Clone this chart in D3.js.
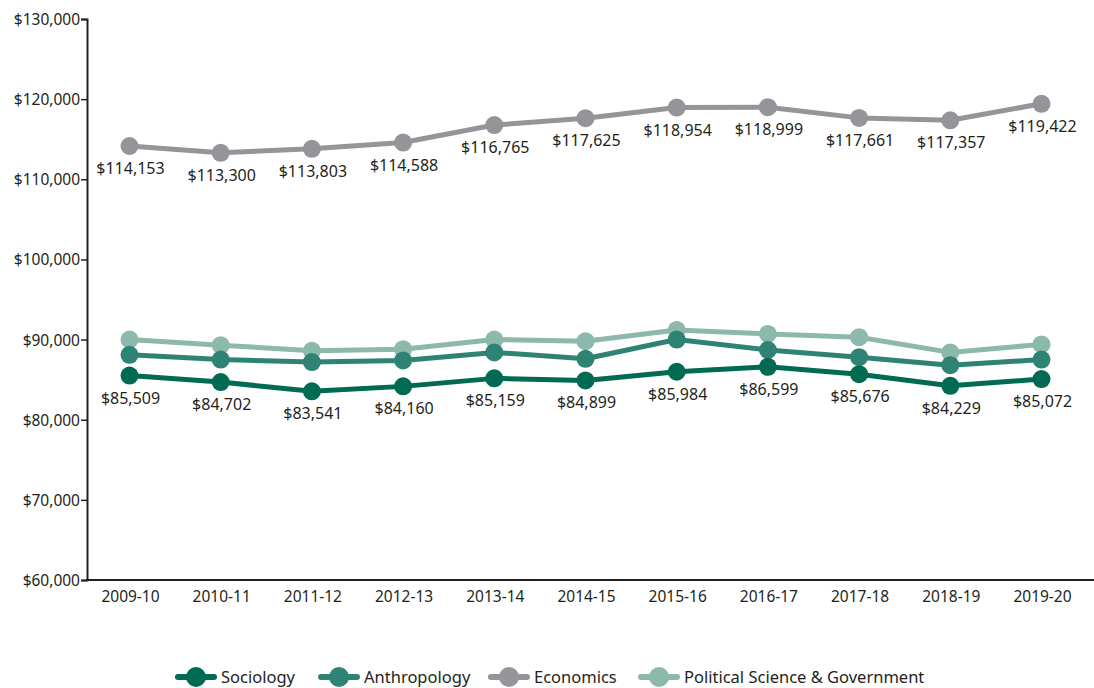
<!DOCTYPE html>
<html><head><meta charset="utf-8">
<script src="https://cdn.jsdelivr.net/npm/d3@7/dist/d3.min.js"></script>
<style>body{margin:0;background:#fff;} text{font-family:"Noto Sans",sans-serif;fill:#231f20;}</style>
</head><body><svg id="c" width="1094" height="688"></svg>
<script>
const years = ["2009-10","2010-11","2011-12","2012-13","2013-14","2014-15","2015-16","2016-17","2017-18","2018-19","2019-20"];
const sociology = [85509,84702,83541,84160,85159,84899,85984,86599,85676,84229,85072];
const anthropology = [88100,87500,87200,87400,88400,87600,90000,88700,87800,86800,87500];
const economics = [114153,113300,113803,114588,116765,117625,118954,118999,117661,117357,119422];
const polisci = [90000,89300,88600,88800,90000,89800,91200,90700,90300,88400,89400];
const yTicks = [60000,70000,80000,90000,100000,110000,120000,130000];
const seriesNames = ["Sociology","Anthropology","Economics","Political Science & Government"];
const colors = ["#006a52","#2f8374","#939598","#8cb9ab"];

const svg = d3.select("#c");
const x = d3.scalePoint().domain(years).range([129.5,1041.5]);
const y = d3.scaleLinear().domain([60000,130000]).range([580,19]);
const fmt = v => "$" + d3.format(",")(v);

// y axis
const ya = svg.append("g").attr("transform","translate(87,0)")
  .call(d3.axisLeft(y).tickValues(yTicks).tickSize(6).tickFormat(fmt));
ya.attr("font-size",null).attr("font-family",null);
ya.select(".domain").attr("stroke","#231f20").attr("stroke-width",2);
ya.selectAll(".tick line").attr("stroke","#231f20").attr("stroke-width",1.5);
ya.selectAll(".tick text").attr("x",-7).attr("dy","0.35em").style("font-size","15.5px").attr("fill","#231f20");

// x axis line
svg.append("line").attr("x1",86).attr("x2",1094).attr("y1",580).attr("y2",580).attr("stroke","#231f20").attr("stroke-width",2);
svg.append("g").selectAll("text").data(years).join("text")
  .attr("x",d=>x(d)+1).attr("y",602).attr("text-anchor","middle")
  .style("font-size","15.5px").text(d=>d);

const all = [sociology,anthropology,economics,polisci];
const drawOrder = [3,1,0,2];
const line = d3.line().x((d,i)=>x(years[i])).y(d=>y(d));
drawOrder.forEach(k=>{
  const g = svg.append("g");
  g.append("path").attr("d",line(all[k])).attr("fill","none").attr("stroke",colors[k]).attr("stroke-width",5).attr("stroke-linejoin","round");
  g.selectAll("circle").data(all[k]).join("circle")
    .attr("cx",(d,i)=>x(years[i])).attr("cy",d=>y(d)).attr("r",9).attr("fill",colors[k]);
});

// labels
[[0,sociology],[2,economics]].forEach(([k,arr])=>{
  svg.append("g").selectAll("text").data(arr).join("text")
    .attr("x",(d,i)=>x(years[i])+1).attr("y",d=>y(d)+28)
    .attr("text-anchor","middle").style("font-size","16px").text(d=>fmt(d));
});

// legend
const legX = [175,318,488,638];
const lg = svg.append("g");
seriesNames.forEach((n,i)=>{
  const g = lg.append("g").attr("transform",`translate(${legX[i]},677)`);
  g.append("line").attr("x1",3).attr("x2",39).attr("y1",0).attr("y2",0).attr("stroke",colors[i]).attr("stroke-width",6).attr("stroke-linecap","round");
  g.append("circle").attr("cx",21).attr("cy",0).attr("r",10).attr("fill",colors[i]);
  g.append("text").attr("x",46).attr("y",6).style("font-size","16.5px").text(n);
});
</script></body></html>
